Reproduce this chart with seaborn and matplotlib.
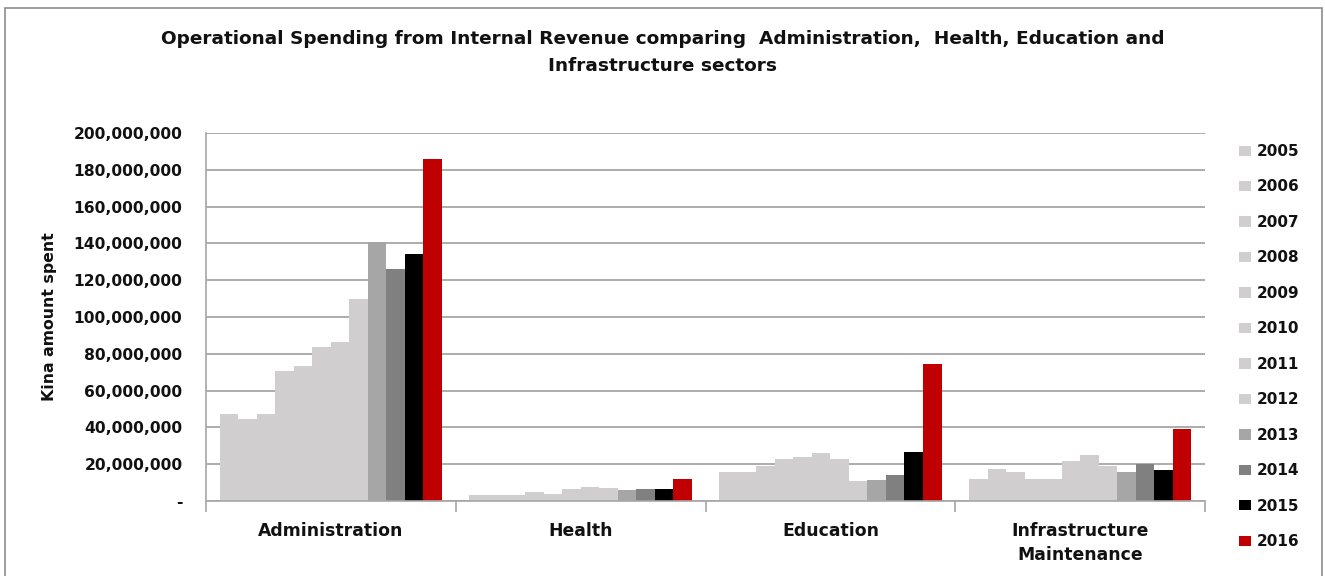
import matplotlib
matplotlib.use("Agg")
import matplotlib.pyplot as plt
import matplotlib.ticker as mticker
from matplotlib.patches import Rectangle, Patch
import seaborn as sns
import pandas as pd

categories = ["Administration", "Health", "Education", "Infrastructure\nMaintenance"]
years = ["2005", "2006", "2007", "2008", "2009", "2010", "2011", "2012", "2013", "2014", "2015", "2016"]

administration = [47.3e6, 44.6e6, 47.3e6, 70.7e6, 73.2e6, 83.5e6, 86.6e6, 109.8e6, 140.6e6, 126.3e6, 134.1e6, 185.9e6]
health = [3.3e6, 3.3e6, 3.3e6, 5.0e6, 3.9e6, 6.6e6, 7.7e6, 7.2e6, 6.1e6, 6.6e6, 6.6e6, 11.9e6]
education = [16.0e6, 15.5e6, 18.8e6, 22.6e6, 23.7e6, 26.2e6, 22.6e6, 10.6e6, 11.3e6, 14.2e6, 26.8e6, 74.7e6]
infrastructure = [11.9e6, 17.6e6, 15.5e6, 11.9e6, 11.9e6, 22.0e6, 24.8e6, 19.1e6, 16.0e6, 19.9e6, 17.1e6, 39.3e6]

colors = ["#D0CECF"] * 8 + ["#A6A6A6", "#808080", "#000000", "#C00000"]

series = [administration, health, education, infrastructure]
rows = []
for cat, vals in zip(categories, series):
    for yr, v in zip(years, vals):
        rows.append({"category": cat, "year": yr, "value": v})
df = pd.DataFrame(rows)

sns.set_theme(style="white")
plt.rcParams["font.family"] = ["DejaVu Sans"]
plt.rcParams["font.weight"] = "bold"

fig = plt.figure(figsize=(13.25, 5.76), dpi=100)
ax = fig.add_axes([206 / 1325, 1 - 501 / 576, (1205 - 206) / 1325, (501 - 133) / 576])

palette = dict(zip(years, colors))
sns.barplot(data=df, x="category", y="value", hue="year", hue_order=years,
            order=categories, palette=palette, saturation=1, width=0.89,
            ax=ax, legend=False, linewidth=0, errorbar=None)

ax.set_xlim(-0.5, len(categories) - 0.5)
ax.set_ylim(0, 200e6)
ax.yaxis.set_major_locator(mticker.MultipleLocator(20e6))
ax.yaxis.set_major_formatter(mticker.FuncFormatter(
    lambda v, p: "-" if abs(v) < 1 else f"{v:,.0f}"))
ax.grid(axis="y", color="#A6A6A6", linewidth=1.3)
ax.set_axisbelow(True)

for s in ["top", "right"]:
    ax.spines[s].set_visible(False)
for s in ["left", "bottom"]:
    ax.spines[s].set_color("#A6A6A6")
    ax.spines[s].set_linewidth(1.2)

ax.tick_params(axis="y", left=False, length=0, labelsize=11.2, pad=17)
ax.tick_params(axis="x", which="major", length=0, labelsize=12.4, pad=15)
ax.xaxis.set_minor_locator(mticker.FixedLocator([i - 0.5 for i in range(len(categories) + 1)]))
ax.tick_params(axis="x", which="minor", bottom=True, length=8, color="#A6A6A6", width=1.2)
for lbl in ax.get_xticklabels() + ax.get_yticklabels():
    lbl.set_fontweight("bold")
    lbl.set_color("#111111")
for lbl in ax.get_xticklabels():
    lbl.set_linespacing(1.45)
    lbl.set_verticalalignment("top")

ax.set_xlabel("")
ax.set_ylabel("Kina amount spent", fontsize=11.3, fontweight="bold", color="#111111", labelpad=12)

fig.text(0.50, 1 - 52.5 / 576, "Operational Spending from Internal Revenue comparing  Administration,  Health, Education and\nInfrastructure sectors",
         ha="center", va="center", fontsize=13.3, fontweight="bold", color="#111111", linespacing=1.6)

handles = [Patch(facecolor=c, edgecolor="none") for c in colors]
leg = fig.legend(handles, years, loc="upper left", bbox_to_anchor=(1239 / 1325, 1 - 144 / 576),
                 frameon=False, fontsize=11, handlelength=0.8, handleheight=0.65,
                 handletextpad=0.35, labelspacing=1.34, borderaxespad=0, borderpad=0)
for t in leg.get_texts():
    t.set_fontweight("bold")
    t.set_color("#111111")

fig.patches.append(Rectangle((5 / 1325, -0.05), (1322 - 5) / 1325, 1.05 - 8 / 576,
                             transform=fig.transFigure, fill=False, edgecolor="#8C8C8C",
                             linewidth=1.2))

fig.savefig("out.png", dpi=100)
